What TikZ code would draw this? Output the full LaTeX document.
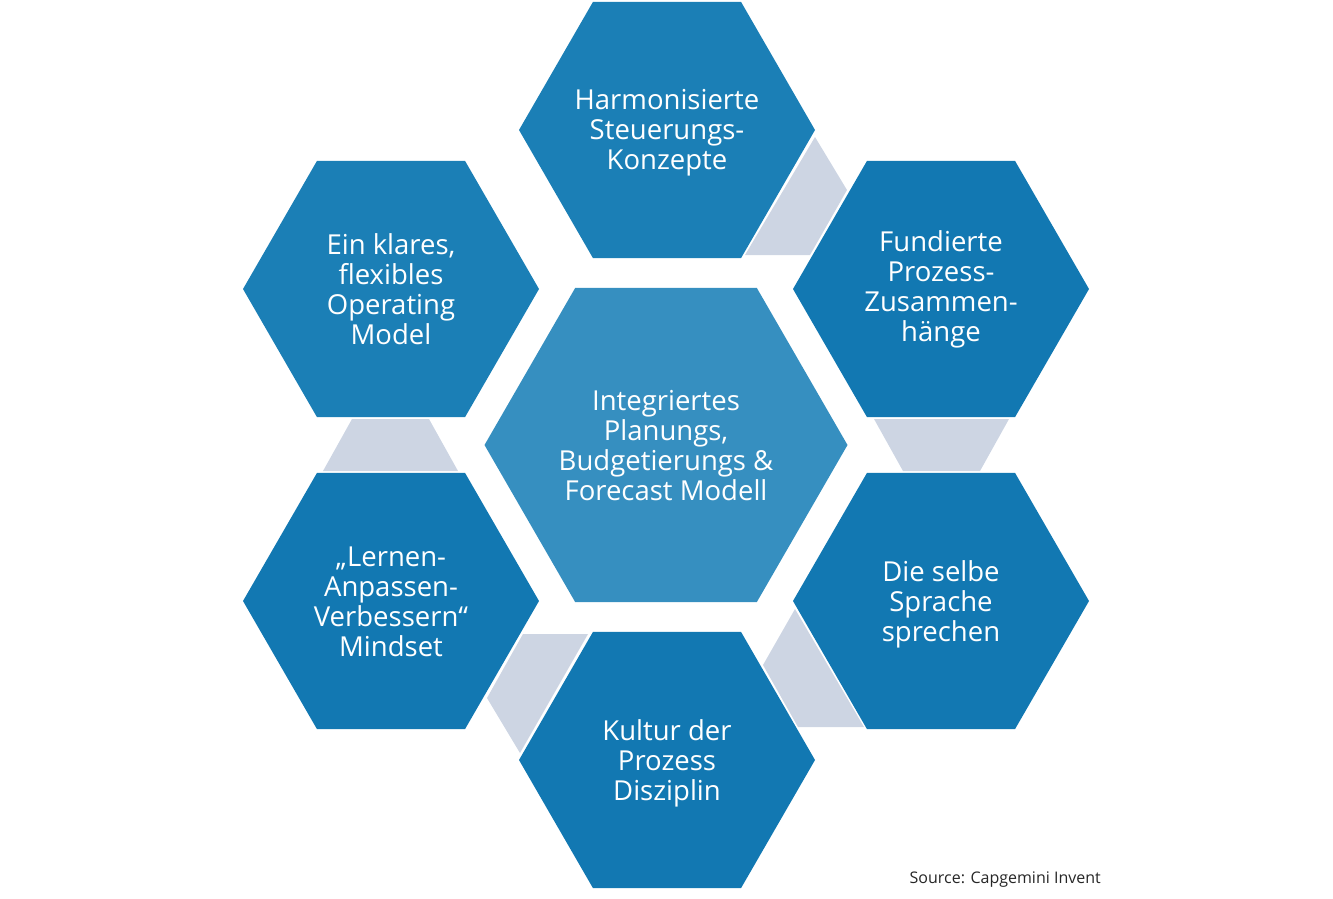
\documentclass[tikz,border=0pt]{standalone}
\usepackage{fontspec}
\setmainfont{Open Sans}
\usetikzlibrary{shapes.geometric}
\definecolor{hexA}{RGB}{27,127,182}
\definecolor{hexB}{RGB}{18,120,178}
\definecolor{hexC}{RGB}{54,143,192}
\definecolor{ringgray}{RGB}{205,213,227}
\begin{document}
\begin{tikzpicture}[x=1pt,y=-1pt,
  hexbox/.style={regular polygon, regular polygon sides=6, minimum size=296pt,
    inner sep=0pt, outer sep=0pt, draw=none, fill=hexB},
  hextext/.style={inner sep=0pt, text=white, align=center,
    font=\fontsize{27.5}{30}\selectfont},
  ringpiece/.style={fill=ringgray, draw=none}]
\useasboundingbox (0,0) rectangle (1333,898);
% gray connector pieces
\fill[ringpiece] (815,137) -- (847,190) -- (810,255) -- (745,255) -- cycle;
\fill[ringpiece] (874,419) -- (1009,419) -- (980,471) -- (903,471) -- cycle;
\fill[ringpiece] (795,609) -- (864,727) -- (798,727) -- (763,665) -- cycle;
\fill[ringpiece] (523,634) -- (588,634) -- (520,753) -- (487,698) -- cycle;
\fill[ringpiece] (352,419) -- (429,419) -- (458,471) -- (323,471) -- cycle;
% hexagons
\node[hexbox, fill=hexA] (top) at (667,130) {};
\node[hexbox, fill=hexA] (ul) at (391,289) {};
\node[hexbox] (ur) at (941,289) {};
\node[hexbox] (lr) at (941,601) {};
\node[hexbox] (bot) at (667,760) {};
\node[hexbox] (ll) at (391,601) {};
\node[hexbox, fill=hexC, minimum size=363pt] (mid) at (666,445) {};
% texts
\node[hextext] (topt) at ([yshift=-3pt]top.center) {Harmonisierte\\Steuerungs-\\Konzepte};
\node[hextext] (ult) at ([yshift=0pt]ul.center) {Ein klares,\\flexibles\\Operating\\Model};
\node[hextext] (urt) at ([yshift=0pt]ur.center) {Fundierte\\Prozess-\\Zusammen-\\hänge};
\node[hextext] (lrt) at ([yshift=-3pt]lr.center) {Die selbe\\Sprache\\sprechen};
\node[hextext] (bott) at ([yshift=-3pt]bot.center) {Kultur der\\Prozess\\Disziplin};
\node[hextext] (llt) at ([yshift=-1pt]ll.center) {„Lernen-\\Anpassen-\\Verbessern“\\Mindset};
\node[hextext] (midt) at ([yshift=-1pt]mid.center) {Integriertes\\Planungs,\\Budgetierungs \&\\Forecast Modell};
\node[anchor=east, inner sep=0pt, font=\fontsize{16}{19}\selectfont, text=black!85] (src) at (1101,880) {Source: Capgemini Invent};
\end{tikzpicture}
\end{document}
